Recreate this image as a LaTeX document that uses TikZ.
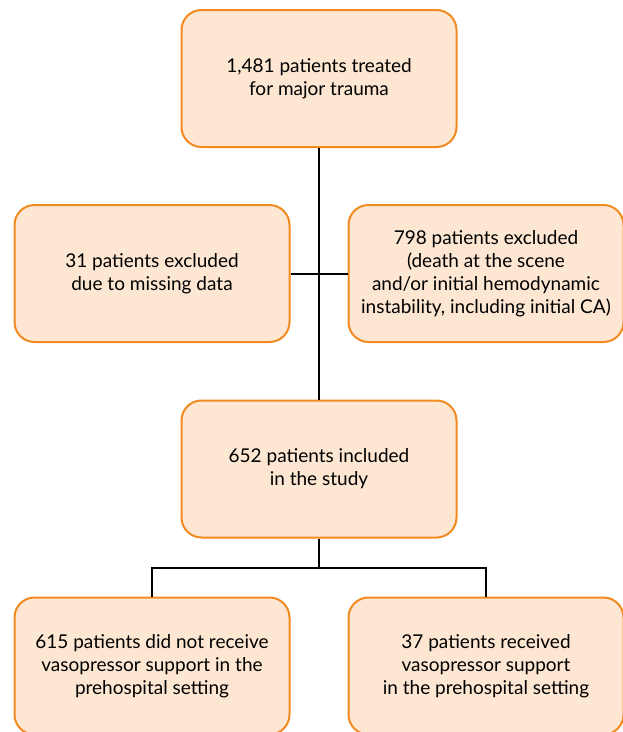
\documentclass[tikz,border=0pt]{standalone}
\usepackage{fontspec}
\setmainfont{Lato}
\usepackage{tikz}

\definecolor{boxfill}{HTML}{FDE6D2}
\definecolor{boxline}{HTML}{F28A22}

\tikzset{
    flowbox/.style={rectangle, rounded corners=20pt, draw=boxline, fill=boxfill,
        line width=2pt, minimum width=275pt, minimum height=137pt,
        align=center, font=\fontsize{19pt}{23pt}\selectfont, inner sep=0pt},
    link/.style={line width=2pt, black}
}

\begin{document}
\begin{tikzpicture}[x=1pt, y=-1pt]

            \useasboundingbox (0,0) rectangle (623,732);
            \clip (0,0) rectangle (623,732);

            \node[flowbox] (treated) at (319,78.5) {1,481 patients treated\\for major trauma};
            \node[flowbox] (missing) at (152,273.5) {31 patients excluded\\due to missing data};
            \node[flowbox] (excluded) at (486,273.5) {798 patients excluded\\(death at the scene\\and/or initial hemodynamic\\instability, including initial CA)};
            \node[flowbox] (included) at (319,469) {652 patients included\\in the study};
            \node[flowbox] (novaso) at (152,666) {615 patients did not receive\\vasopressor support in the\\prehospital setting};
            \node[flowbox] (vaso) at (486,666) {37 patients received\\vasopressor support\\in the prehospital setting};

            \coordinate (split) at (319,568);

            \begin{scope}[link]
                \draw[line width=2.5pt] (treated.south) -- (included.north);
                \draw (missing.east) -- (excluded.west);
                \draw[line width=2.5pt] (included.south) -- (split);
                \draw (novaso.north) |- (split) -| (vaso.north);
            \end{scope}

\end{tikzpicture}
\end{document}
